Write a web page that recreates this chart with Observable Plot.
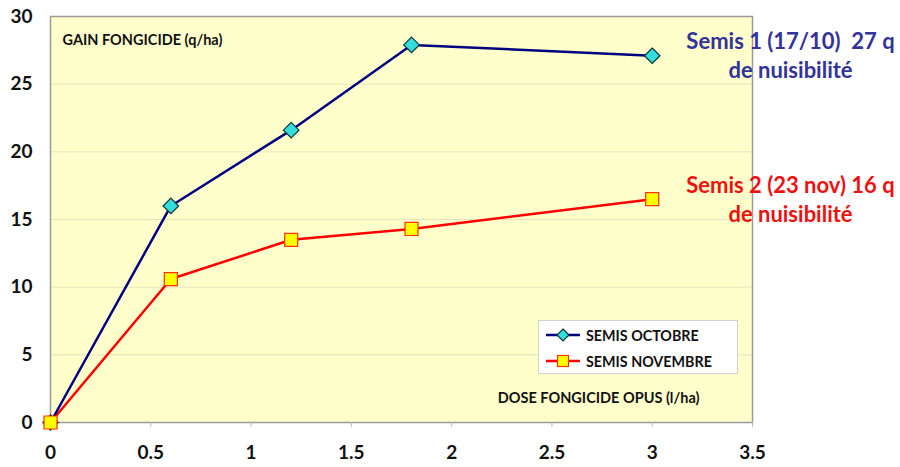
<!DOCTYPE html>
<html>
<head>
<meta charset="utf-8">
<script src="https://cdn.jsdelivr.net/npm/d3@7"></script>
<script src="https://cdn.jsdelivr.net/npm/@observablehq/plot@0.6"></script>
<style>
  html, body { margin: 0; padding: 0; background: #fff; }
  #wrap { position: relative; width: 900px; height: 467px; font-family: Lato, "Open Sans", sans-serif; }
  #legend { position: absolute; left: 538px; top: 320px; width: 198px; height: 52px; background: #fff; border: 1px solid #d0d0d0; font-weight: bold; font-size: 14.3px; color: #111; }
  .row { position: absolute; left: 6px; height: 20px; display: flex; align-items: center; }
  .row span { margin-left: 5px; }
</style>
</head>
<body>
<div id="wrap"></div>
<script>
const doses = [0, 0.6, 1.2, 1.8, 3];
const octobre = [0, 16.0, 21.6, 27.9, 27.1];
const novembre = [0, 10.6, 13.5, 14.3, 16.5];
const xTicks = [0, 0.5, 1, 1.5, 2, 2.5, 3, 3.5];
const yTicks = [0, 5, 10, 15, 20, 25, 30];
const seriesNames = ["SEMIS OCTOBRE", "SEMIS NOVEMBRE"];
const yTitle = "GAIN FONGICIDE (q/ha)";
const xTitle = "DOSE FONGICIDE OPUS (l/ha)";
const note1 = "Semis 1 (17/10)\u00a0 27 q\nde nuisibilité";
const note2 = "Semis 2 (23 nov) 16 q\nde nuisibilité";

const oct = doses.map((d, i) => ({dose: d, gain: octobre[i]}));
const nov = doses.map((d, i) => ({dose: d, gain: novembre[i]}));

const blue = "#000080", red = "#ff0000";

const chart = Plot.plot({
  width: 900, height: 467,
  marginLeft: 50, marginRight: 148, marginTop: 16, marginBottom: 45,
  style: {fontFamily: "Lato, 'Open Sans', sans-serif", fontWeight: "bold", fontSize: "18px", color: "#111", background: "transparent", overflow: "visible"},
  x: {domain: [0, 3.5]},
  y: {domain: [0, 30]},
  marks: [
    Plot.frame({fill: "#ffffcc"}),
    Plot.gridY(yTicks.filter(t => t > 0 && t < 30), {stroke: "#e4e4bc", strokeOpacity: 1, strokeWidth: 1}),
    Plot.frame({stroke: "#9a9a9a", strokeWidth: 1.5}),
    Plot.axisX(xTicks, {tickSize: 5, tickPadding: 18, tickFormat: d => String(d), stroke: "#bbb", fill: "#111", fontSize: 19, fontWeight: "bold", label: null}),
    Plot.axisY(yTicks, {tickSize: 0, tickPadding: 18, tickFormat: d => String(d), fill: "#111", fontSize: 19, fontWeight: "bold", label: null}),
    Plot.text([yTitle], {frameAnchor: "top-left", dx: 12, dy: 18, textAnchor: "start", fontSize: 14.5, fontWeight: "bold", fill: "#111"}),
    Plot.text([xTitle], {frameAnchor: "bottom-right", dx: -53, dy: -20, textAnchor: "end", fontSize: 14.5, fontWeight: "bold", fill: "#111"}),
    Plot.line(nov, {x: "dose", y: "gain", stroke: red, strokeWidth: 2.5}),
    Plot.line(oct, {x: "dose", y: "gain", stroke: blue, strokeWidth: 2.5}),
    Plot.dot(oct, {x: "dose", y: "gain", symbol: "diamond2", r: 7, fill: "#33dddd", stroke: "#113333", strokeWidth: 1.2}),
    Plot.dot(nov, {x: "dose", y: "gain", symbol: "square2", r: 8.3, fill: "#ffff00", stroke: "#ff3300", strokeWidth: 1.2}),
    Plot.text([note1], {frameAnchor: "top-right", dx: 38, dy: 38, textAnchor: "middle", lineAnchor: "middle", lineHeight: 1.3, fontSize: 22, fontWeight: "bold", fill: "#333399"}),
    Plot.text([note2], {frameAnchor: "top-right", dx: 38, dy: 182, textAnchor: "middle", lineAnchor: "middle", lineHeight: 1.3, fontSize: 22, fontWeight: "bold", fill: "#ee1111"})
  ]
});

const wrap = document.getElementById("wrap");
wrap.appendChild(chart);

const legend = document.createElement("div");
legend.id = "legend";
const sym = [
  `<svg width="36" height="16"><line x1="1" y1="8" x2="35" y2="8" stroke="${blue}" stroke-width="2.5"/><path d="M18,2 L24,8 L18,14 L12,8 Z" fill="#33dddd" stroke="#113333" stroke-width="1.2"/></svg>`,
  `<svg width="36" height="16"><line x1="1" y1="8" x2="35" y2="8" stroke="${red}" stroke-width="2.5"/><rect x="12.5" y="2.5" width="11" height="11" fill="#ffff00" stroke="#ff3300" stroke-width="1.2"/></svg>`
];
seriesNames.forEach((n, i) => {
  const r = document.createElement("div");
  r.className = "row";
  r.style.top = (4 + i * 26) + "px";
  r.innerHTML = sym[i] + `<span>${n}</span>`;
  legend.appendChild(r);
});
wrap.appendChild(legend);
</script>
</body>
</html>
